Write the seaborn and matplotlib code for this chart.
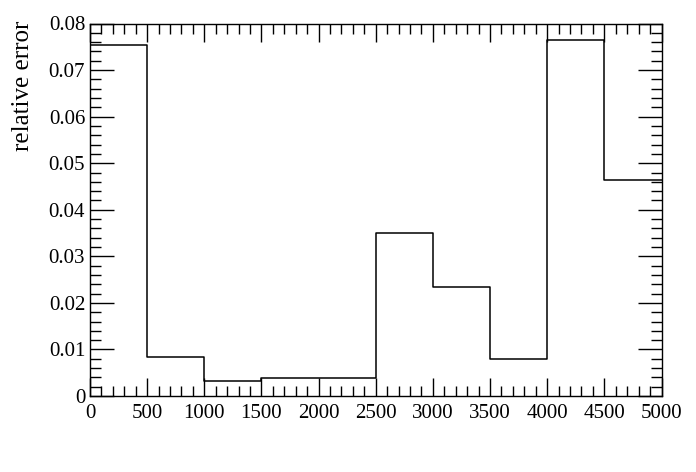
import matplotlib
matplotlib.use("Agg")
import matplotlib.pyplot as plt
from matplotlib.ticker import MultipleLocator
import seaborn as sns

bin_edges = [0, 500, 1000, 1500, 2000, 2500, 3000, 3500, 4000, 4500, 5000]
rel_error = [0.0754, 0.0084, 0.0033, 0.0039, 0.0039, 0.0349, 0.0235, 0.0080, 0.0764, 0.0463]
x_ticks = [0, 500, 1000, 1500, 2000, 2500, 3000, 3500, 4000, 4500, 5000]
x_ticklabels = ["0", "500", "1000", "1500", "2000", "2500", "3000", "3500", "4000", "4500", "5000"]
y_ticks = [0, 0.01, 0.02, 0.03, 0.04, 0.05, 0.06, 0.07, 0.08]
y_ticklabels = ["0", "0.01", "0.02", "0.03", "0.04", "0.05", "0.06", "0.07", "0.08"]
y_label = "relative error"

sns.set_style("ticks")
plt.rcParams['font.family'] = ['Liberation Serif', 'DejaVu Serif']
plt.rcParams['text.color'] = 'black'
plt.rcParams['axes.labelcolor'] = 'black'
plt.rcParams['xtick.color'] = 'black'
plt.rcParams['ytick.color'] = 'black'

fig = plt.figure(figsize=(6.96, 4.72), dpi=100)
ax = fig.add_axes([90/696, 1 - 396/472, (661.5-90)/696, (396-23.5)/472])

centers = [(bin_edges[i] + bin_edges[i+1]) / 2 for i in range(len(rel_error))]
sns.histplot(x=centers, weights=rel_error, bins=bin_edges, element="step",
             fill=False, color="black", linewidth=1.1, ax=ax)

ax.set_xlim(0, 5000)
ax.set_ylim(0, 0.08)
ax.xaxis.set_minor_locator(MultipleLocator(100))
ax.yaxis.set_minor_locator(MultipleLocator(0.002))
ax.set_xticks(x_ticks)
ax.set_xticklabels(x_ticklabels)
ax.set_yticks(y_ticks)
ax.set_yticklabels(y_ticklabels)

ax.tick_params(axis='both', which='both', direction='in', top=True, right=True,
               labelsize=15, width=1, colors='black')
ax.tick_params(axis='x', which='major', length=13, pad=6)
ax.tick_params(axis='x', which='minor', length=7)
ax.tick_params(axis='y', which='major', length=17, pad=3.5)
ax.tick_params(axis='y', which='minor', length=8)
for s in ax.spines.values():
    s.set_linewidth(1)
    s.set_color('black')

ax.set_xlabel("")
ax.set_ylabel(y_label, fontsize=18, loc='top')
ax.yaxis.set_label_coords(-0.098, 1.008)

fig.savefig("out.png", dpi=100)
